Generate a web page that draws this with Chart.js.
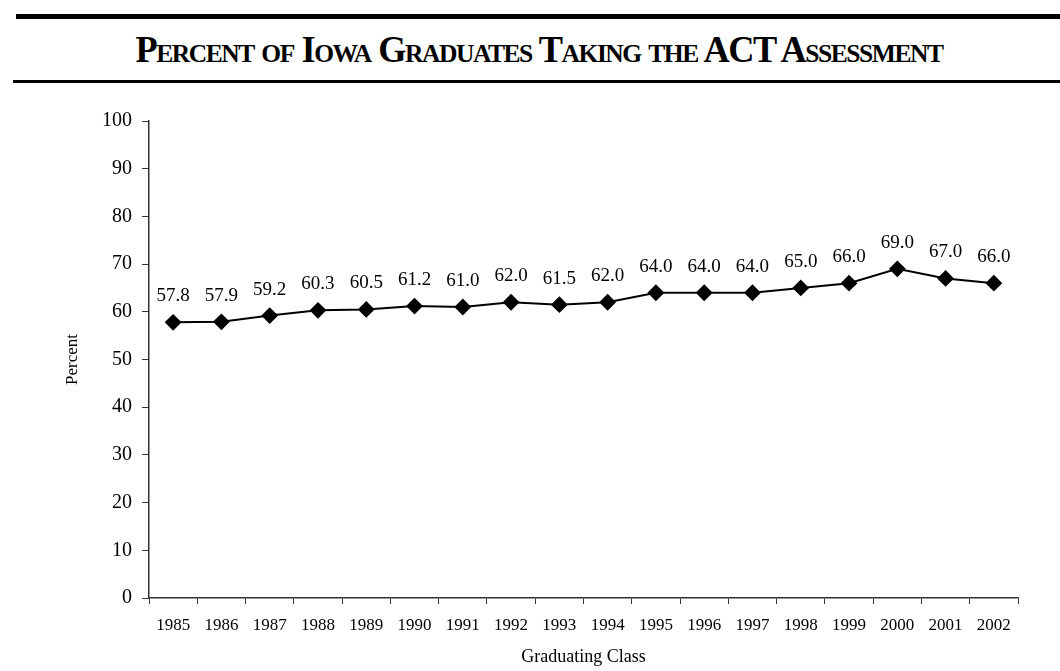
<!DOCTYPE html>
<html>
<head>
<meta charset="utf-8">
<script src="https://cdn.jsdelivr.net/npm/chart.js@4.4.1/dist/chart.umd.min.js"></script>
<style>
  html, body { margin: 0; padding: 0; background: #fff; }
  #wrap { position: relative; width: 1060px; height: 671px; overflow: hidden; }
  .rule { position: absolute; right: 0; background: #000; }
  #title { position: absolute; left: 9px; top: 28px; width: 1060px; text-align: center;
           font-family: "Liberation Serif", "Times New Roman", serif; font-weight: bold;
           font-size: 37px; line-height: 44px; font-variant: small-caps; letter-spacing: -1.5px;
           white-space: nowrap; color: #000; }
  #title span { display: inline-block; transform-origin: center center; }
  #c { position: absolute; left: 0; top: 0; }
</style>
</head>
<body>
<div id="wrap">
  <div class="rule" style="left:16px; top:14px; height:5px;"></div>
  <div class="rule" style="left:13px; top:80px; height:3px;"></div>
  <div id="title"><span id="tspan">Percent of Iowa Graduates Taking the ACT Assessment</span></div>
  <canvas id="c" width="1060" height="671"></canvas>
</div>
<script>
// ---- data ----
const years = ['1985','1986','1987','1988','1989','1990','1991','1992','1993','1994','1995','1996','1997','1998','1999','2000','2001','2002'];
const percentTaking = [57.8, 57.9, 59.2, 60.3, 60.5, 61.2, 61.0, 62.0, 61.5, 62.0, 64.0, 64.0, 64.0, 65.0, 66.0, 69.0, 67.0, 66.0];
const yTicks = [0, 10, 20, 30, 40, 50, 60, 70, 80, 90, 100];
const yAxisTitle = 'Percent';
const xAxisTitle = 'Graduating Class';

// fit title width
(function(){
  const s = document.getElementById('tspan');
  const w = s.getBoundingClientRect().width;
  const target = 807;
  s.style.transform = 'scaleX(' + (target / w) + ')';
})();

const serif = '"Liberation Serif", "Times New Roman", serif';

const labelPlugin = {
  id: 'valueLabels',
  afterDatasetsDraw(chart) {
    const ctx = chart.ctx;
    const meta = chart.getDatasetMeta(0);
    ctx.save();
    ctx.font = '19px ' + serif;
    ctx.fillStyle = '#000';
    ctx.textAlign = 'center';
    ctx.textBaseline = 'alphabetic';
    meta.data.forEach((pt, i) => {
      ctx.fillText(percentTaking[i].toFixed(1), pt.x, pt.y - 21);
    });
    ctx.restore();
  }
};

new Chart(document.getElementById('c'), {
  type: 'line',
  data: {
    labels: years,
    datasets: [{
      data: percentTaking,
      borderColor: '#000',
      backgroundColor: '#000',
      borderWidth: 2,
      pointStyle: 'rectRot',
      pointRadius: 7,
      pointHoverRadius: 7,
      pointBackgroundColor: '#000',
      pointBorderColor: '#000',
      tension: 0
    }]
  },
  options: {
    responsive: false,
    animation: false,
    devicePixelRatio: 1,
    layout: { padding: { left: 0, right: 42, top: 121, bottom: 0 } },
    plugins: { legend: { display: false }, tooltip: { enabled: false }, title: { display: false } },
    scales: {
      x: {
        type: 'category',
        offset: true,
        grid: { display: true, offset: true, drawOnChartArea: false, drawTicks: true, tickLength: 6, color: '#333', tickColor: '#333' },
        border: { display: true, color: '#333', width: 1.5 },
        ticks: { font: { family: serif, size: 17 }, color: '#000', padding: 11, maxRotation: 0, autoSkip: false },
        title: { display: true, text: xAxisTitle, font: { family: serif, size: 18 }, color: '#000', padding: { top: 4, bottom: 3 } },
        afterFit(scale) { scale.height = 73; }
      },
      y: {
        min: 0, max: 100,
        afterBuildTicks(scale) { scale.ticks = yTicks.map(v => ({ value: v })); },
        grid: { display: true, drawOnChartArea: false, drawTicks: true, tickLength: 7, color: '#333', tickColor: '#333' },
        border: { display: true, color: '#333', width: 1.5 },
        ticks: { font: { family: serif, size: 20 }, color: '#000', padding: 10 },
        title: { display: true, text: yAxisTitle, font: { family: serif, size: 17 }, color: '#000', padding: { top: 62, bottom: 0 } },
        afterFit(scale) { scale.width = 149; }
      }
    }
  },
  plugins: [labelPlugin]
});
</script>
</body>
</html>
